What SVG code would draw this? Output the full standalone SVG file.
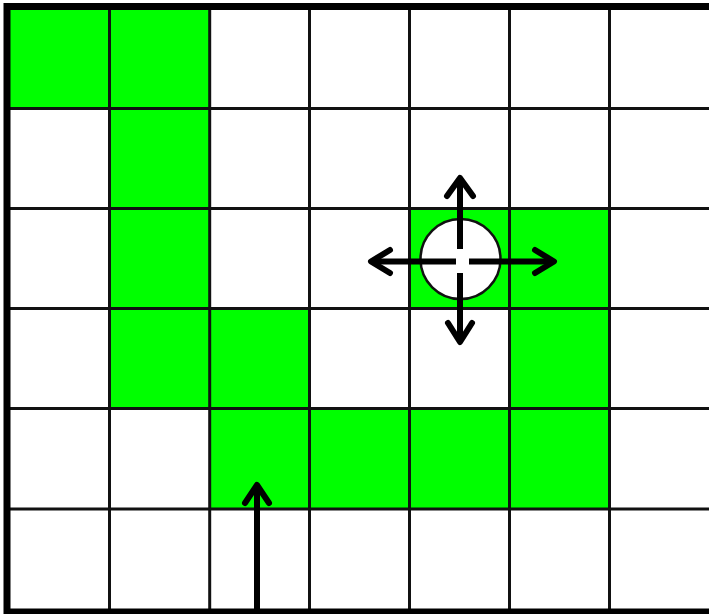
<svg xmlns="http://www.w3.org/2000/svg" width="709" height="614" viewBox="0 0 709 614">
  <style>
    .g { fill: #00ff00; stroke: none; }
    .grid line { stroke: #111; stroke-width: 3; }
    .arr { fill: none; stroke: #000; stroke-width: 6; stroke-linecap: round; stroke-linejoin: round; }
    .shaft { fill: none; stroke: #000; stroke-width: 6; stroke-linecap: butt; }
  </style>
  <rect x="0" y="0" width="709" height="614" fill="#ffffff"/>
  <g id="green-cells">
    <rect class="g" x="9.5" y="8.5" width="100" height="100"/>
    <rect class="g" x="109.5" y="8.5" width="100" height="100"/>
    <rect class="g" x="109.5" y="108.5" width="100" height="100"/>
    <rect class="g" x="109.5" y="208.5" width="100" height="100"/>
    <rect class="g" x="409.5" y="208.5" width="100" height="100"/>
    <rect class="g" x="509.5" y="208.5" width="100" height="100"/>
    <rect class="g" x="109.5" y="308.5" width="100" height="100"/>
    <rect class="g" x="209.5" y="308.5" width="100" height="100"/>
    <rect class="g" x="509.5" y="308.5" width="100" height="100"/>
    <rect class="g" x="209.5" y="408.5" width="100" height="100"/>
    <rect class="g" x="309.5" y="408.5" width="100" height="100"/>
    <rect class="g" x="409.5" y="408.5" width="100" height="100"/>
    <rect class="g" x="509.5" y="408.5" width="100" height="100"/>
  </g>
  <g id="grid" class="grid">
    <line x1="109.5" y1="7" x2="109.5" y2="612"/>
    <line x1="209.7" y1="7" x2="209.7" y2="612"/>
    <line x1="309.5" y1="7" x2="309.5" y2="612"/>
    <line x1="409.5" y1="7" x2="409.5" y2="612"/>
    <line x1="509.5" y1="7" x2="509.5" y2="612"/>
    <line x1="609.5" y1="7" x2="609.5" y2="612"/>
    <line x1="7" y1="108.5" x2="709" y2="108.5"/>
    <line x1="7" y1="208.5" x2="709" y2="208.5"/>
    <line x1="7" y1="308.5" x2="709" y2="308.5"/>
    <line x1="7" y1="408.5" x2="709" y2="408.5"/>
    <line x1="7" y1="509" x2="709" y2="509"/>
    <rect x="7" y="6.5" width="720" height="605.5" fill="none" stroke="#000" stroke-width="7"/>
  </g>
  <g id="robot">
    <circle cx="460.5" cy="259" r="40" fill="#ffffff" stroke="#111" stroke-width="2.5"/>
  </g>
  <g id="connectors">
    <g id="arrow-up">
      <line class="shaft" x1="460" y1="249" x2="460" y2="180"/>
      <polyline class="arr" points="447,196 460,178 473,196"/>
    </g>
    <g id="arrow-down">
      <line class="shaft" x1="460" y1="273" x2="460" y2="341"/>
      <polyline class="arr" points="448,323 460,342 472,323"/>
    </g>
    <g id="arrow-left">
      <line class="shaft" x1="456" y1="261.5" x2="373" y2="261.5"/>
      <polyline class="arr" points="390,250 371,261.5 390,273"/>
    </g>
    <g id="arrow-right">
      <line class="shaft" x1="469" y1="261.5" x2="552" y2="261.5"/>
      <polyline class="arr" points="535,250 554,261.5 535,273"/>
    </g>
    <g id="arrow-start">
      <line class="shaft" x1="257" y1="614" x2="257" y2="487"/>
      <polyline class="arr" points="245,503 257,485 269,503"/>
    </g>
  </g>
</svg>
